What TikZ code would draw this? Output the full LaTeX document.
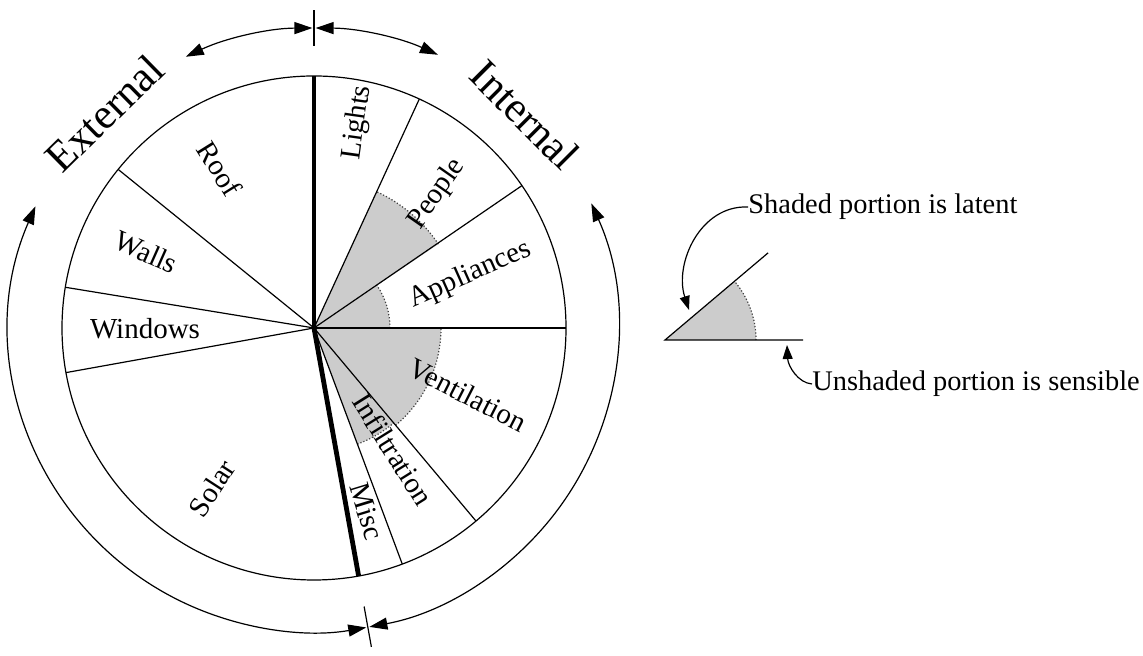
\documentclass[tikz,border=0pt]{standalone}
\usepackage{fontspec}
\setmainfont{Liberation Serif}
\usetikzlibrary{arrows.meta,calc}
\begin{document}
\begin{tikzpicture}[x=0.5pt,y=0.5pt,
  thinline/.style={line width=0.6pt},
  thickline/.style={line width=2.4pt, line cap=butt},
  latentfill/.style={fill=black!20},
  latentedge/.style={draw=black!75, line width=0.6pt, densely dotted},
  lbl/.style={font=\fontsize{14.5}{17}\selectfont, inner sep=0pt},
  big/.style={font=\fontsize{21.5}{25}\selectfont, inner sep=0pt},
  leg/.style={font=\fontsize{14.2}{17}\selectfont, inner sep=0pt},
  dbl/.style={line width=0.6pt, {Triangle[length=9pt,width=6pt]}-{Triangle[length=9pt,width=6pt]}},
  sgl/.style={line width=0.6pt, -{Triangle[length=7pt,width=5pt]}},
  ]
\useasboundingbox (0,0) rectangle (1143,656);
\coordinate (C) at (314,328);
% latent shading
\fill[latentfill] (C) -- ++(34:150) arc[start angle=34,end angle=65.3,radius=150] -- cycle;
\fill[latentfill] (C) -- ++(0:76) arc[start angle=0,end angle=34,radius=76] -- cycle;
\fill[latentfill] (C) -- ++(-50:127) arc[start angle=-50,end angle=0,radius=127] -- cycle;
\fill[latentfill] (C) -- ++(-69.5:124) arc[start angle=-69.5,end angle=-50,radius=124] -- cycle;
\draw[latentedge] (C) ++(34:150) arc[start angle=34,end angle=65.3,radius=150];
\draw[latentedge] (C) ++(0:76) arc[start angle=0,end angle=34,radius=76];
\draw[latentedge] (C) ++(-50:127) arc[start angle=-50,end angle=0,radius=127];
\draw[latentedge] (C) ++(-69.5:124) arc[start angle=-69.5,end angle=-50,radius=124];
% slice boundaries
\foreach \a in {65.3,34.4,0,-50,-69.5,190.2,170.7,141}
  \draw[thinline] (C) -- ++(\a:252);
\draw[thickline] (C) -- ++(90:252);
\draw[thickline] (C) -- ++(-79.8:252);
\draw[thinline] (C) circle[radius=252];
% slice labels
\node[lbl, rotate=-58] (roof) at ($(C)+(120.6:185)$) {Roof};
\node[lbl, rotate=-24] (walls) at ($(C)+(155.7:184)$) {Walls};
\node[lbl, rotate=0] (windows) at ($(C)+(180.3:169)$) {Windows};
\node[lbl, rotate=57] (solar) at ($(C)+(237.5:190)$) {Solar};
\node[lbl, rotate=82] (lights) at ($(C)+(78:210)$) {Lights};
\node[lbl, rotate=55] (people) at ($(C)+(47.5:182)$) {People};
\node[lbl, rotate=24] (appl) at ($(C)+(18.8:165)$) {Appliances};
\node[lbl, rotate=-27] (vent) at ($(C)+(-23.5:168)$) {Ventilation};
\node[lbl, rotate=-58] (infil) at ($(C)+(-57:145)$) {Infiltration};
\node[lbl, rotate=-73] (misc) at ($(C)+(-73.9:191)$) {Misc};
% outer labels
\node[big, rotate=44.5] (ext) at ($(C)+(134.3:300)$) {External};
\node[big, rotate=-45] (int) at ($(C)+(45.3:300)$) {Internal};
% ticks
\coordinate (tt1) at ($(C)+(90:282)$);
\coordinate (tt2) at ($(C)+(90:318)$);
\draw[thinline] (tt1) -- (tt2);
\coordinate (bt1) at ($(C)+(-79.8:283)$);
\coordinate (bt2) at ($(C)+(-79.8:324)$);
\draw[thinline] (bt1) -- (bt2);
% range arrows
\draw[dbl] (C) ++(115.3:300) arc[start angle=115.3,end angle=90.3,radius=300];
\draw[dbl] (C) ++(89.7:300) arc[start angle=89.7,end angle=65.6,radius=300];
\draw[dbl] (C) ++(156.4:304) arc[start angle=156.4,end angle=279.9,radius=304];
\draw[dbl] (C) ++(24.2:304) arc[start angle=24.2,end angle=-79.5,radius=304];
% legend
\coordinate (LA) at (665,316);
\fill[latentfill] (LA) -- ++(0:91) arc[start angle=0,end angle=40.2,radius=91] -- cycle;
\draw[latentedge] (LA) ++(0:91) arc[start angle=0,end angle=40.2,radius=91];
\coordinate (LH) at (803,316);
\coordinate (LS) at ($(LA)+(40.2:135)$);
\draw[thinline] (LH) -- (LA) -- (LS);
\node[leg, anchor=west] (lat) at (748,449) {Shaded portion is latent};
\node[leg, anchor=west] (sen) at (812,272) {Unshaded portion is sensible};
\coordinate (latTip) at (689,346);
\coordinate (senTip) at (787,311);
\draw[sgl] (lat.west) .. controls (700,451) and (674,392) .. (latTip);
\draw[sgl] (sen.west) .. controls (798,273) and (788,290) .. (senTip);
\end{tikzpicture}
\end{document}
